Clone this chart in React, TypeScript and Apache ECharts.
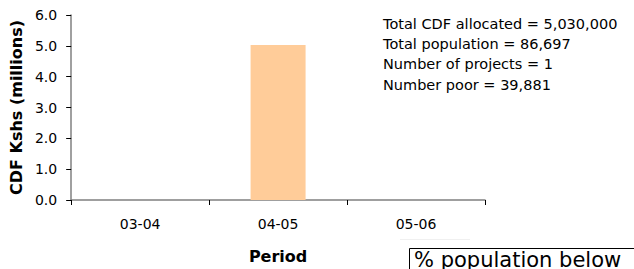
import React, { useEffect, useRef } from "react";
import * as echarts from "echarts";

const categories = ["03-04", "04-05", "05-06"];
const cdfValues = [0, 5.03, 0];
const yTicks = [0, 1, 2, 3, 4, 5, 6];
const infoLines = [
  "Total CDF allocated = 5,030,000",
  "Total population = 86,697",
  "Number of projects = 1",
  "Number poor = 39,881",
];
const FONT = "'DejaVu Sans', sans-serif";

export default function App() {
  const ref = useRef<HTMLDivElement>(null);
  useEffect(() => {
    if (!ref.current) return;
    const chart = echarts.init(ref.current, null, { renderer: "svg" });
    chart.setOption({
      animation: false,
      textStyle: { fontFamily: FONT },
      grid: { left: 71, right: 149, top: 15, bottom: 69 },
      xAxis: {
        type: "category",
        data: categories,
        name: "Period",
        nameLocation: "middle",
        nameGap: 48,
        nameTextStyle: { fontFamily: FONT, fontSize: 16, fontWeight: "bold", color: "#000" },
        axisLine: { lineStyle: { color: "#808080", width: 1.5 } },
        axisTick: { show: true, alignWithLabel: false, length: 5, lineStyle: { color: "#000" } },
        axisLabel: { fontFamily: FONT, fontSize: 14, color: "#000", margin: 17 },
      },
      yAxis: {
        type: "value",
        min: 0,
        max: yTicks[yTicks.length - 1],
        interval: 1,
        name: "CDF Kshs (millions)",
        nameLocation: "middle",
        nameGap: 34,
        nameRotate: 90,
        nameTextStyle: { fontFamily: FONT, fontSize: 16, fontWeight: "bold", color: "#000" },
        axisLine: { show: true, lineStyle: { color: "#808080", width: 1.5 } },
        axisTick: { show: true, length: 5, lineStyle: { color: "#000" } },
        axisLabel: {
          fontFamily: FONT,
          fontSize: 14,
          color: "#000",
          margin: 14,
          formatter: (v: number) => v.toFixed(1),
        },
        splitLine: { show: false },
      },
      series: [
        {
          type: "bar",
          data: cdfValues,
          barWidth: 55,
          itemStyle: { color: "#FFCC99" },
        },
      ],
      graphic: [
        ...infoLines.map((t, i) => ({
          type: "text",
          left: 383,
          top: 16.5 + i * 20.2,
          style: { text: t, fontFamily: FONT, fontSize: 14.5, fill: "#000" },
        })),
        {
          type: "line",
          shape: { x1: 400, y1: 239.5, x2: 470, y2: 239.5 },
          style: { stroke: "#f0f0f0", lineWidth: 1 },
        },
        {
          type: "rect",
          shape: { x: 409.5, y: 248.5, width: 240, height: 30 },
          style: { fill: "#fff", stroke: "#000", lineWidth: 1 },
        },
        {
          type: "text",
          left: 414,
          top: 249,
          style: { text: "% population below", fontFamily: FONT, fontSize: 21, fill: "#000" },
        },
      ],
    });
    return () => chart.dispose();
  }, []);
  return (
    <div
      ref={ref}
      style={{ position: "fixed", left: 0, top: 0, width: 634, height: 269, background: "#fff" }}
    />
  );
}
